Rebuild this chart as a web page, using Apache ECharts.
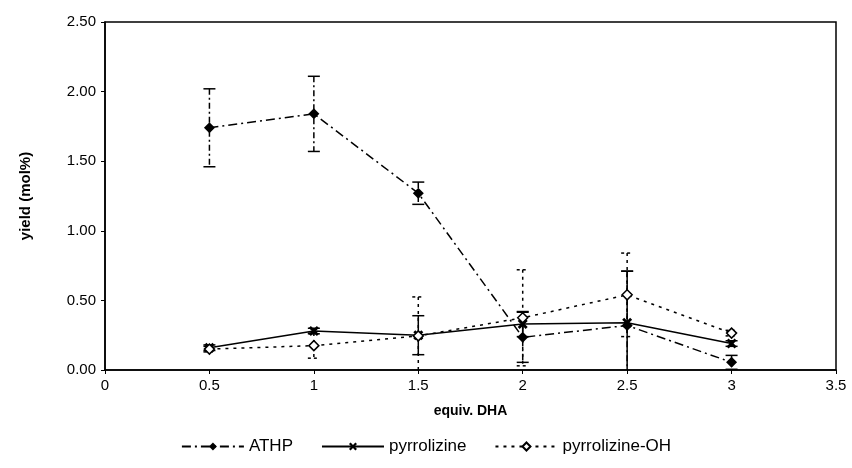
<!DOCTYPE html>
<html>
<head>
<meta charset="utf-8">
<script src="https://cdn.jsdelivr.net/npm/echarts@6/dist/echarts.min.js"></script>
<style>
  html, body { margin: 0; padding: 0; background: #fff; }
  #chart { width: 852px; height: 468px; }
</style>
</head>
<body>
<div id="chart"></div>
<script>
  // x positions (equiv. DHA)
  const equivDHA = [0.5, 1, 1.5, 2, 2.5, 3];

  // yields (mol%) and their error (+/-)
  const athp = [1.74, 1.84, 1.27, 0.235, 0.32, 0.055];
  const athpErr = [0.28, 0.27, 0.08, 0.18, 0.39, 0.05];
  const pyrrolizine = [0.16, 0.28, 0.25, 0.33, 0.34, 0.19];
  const pyrrolizineErr = [0.02, 0.02, 0.14, 0.09, 0.37, 0.02];
  const pyrrolizineOH = [0.15, 0.175, 0.245, 0.375, 0.54, 0.265];
  const pyrrolizineOHErr = [0.02, 0.09, 0.28, 0.345, 0.30, 0.02];

  const seriesNames = ['ATHP', 'pyrrolizine', 'pyrrolizine-OH'];

  const font = '"Liberation Sans", Arial, sans-serif';
  const crossPath = 'path://M2,0 L5,3 L8,0 L10,2 L7,5 L10,8 L8,10 L5,7 L2,10 L0,8 L3,5 L0,2 Z';

  function points(values) {
    return equivDHA.map((x, i) => [x, values[i]]);
  }

  function errorData(values, errs) {
    return equivDHA.map((x, i) => [x, values[i] - errs[i], values[i] + errs[i]]);
  }

  // draws vertical error bar with caps
  function errorRender(barDash, capDash) {
    return function (params, api) {
      const x = api.value(0);
      const lo = api.value(1);
      const hi = api.value(2);
      const top = api.coord([x, hi]);
      const bot = api.coord([x, Math.max(0, lo)]);
      const half = 6;
      const children = [{
        type: 'line',
        shape: { x1: top[0], y1: top[1], x2: bot[0], y2: bot[1] },
        style: { stroke: '#000', lineWidth: 1.5, lineDash: barDash }
      }, {
        type: 'line',
        shape: { x1: top[0] - half, y1: top[1], x2: top[0] + half, y2: top[1] },
        style: { stroke: '#000', lineWidth: 1.5, lineDash: capDash }
      }];
      if (lo > 0) {
        children.push({
          type: 'line',
          shape: { x1: bot[0] - half, y1: bot[1], x2: bot[0] + half, y2: bot[1] },
          style: { stroke: '#000', lineWidth: 1.5, lineDash: capDash }
        });
      }
      return { type: 'group', children: children };
    };
  }

  const chart = echarts.init(document.getElementById('chart'));
  chart.setOption({
    backgroundColor: '#fff',
    animation: false,
    textStyle: { fontFamily: font, color: '#000' },
    grid: {
      left: 105,
      right: 16,
      top: 22,
      bottom: 98,
      show: true,
      borderColor: '#000',
      borderWidth: 1.5
    },
    // 图例
    legend: {
      bottom: 8,
      left: 'center',
      data: seriesNames,
      itemWidth: 62,
      itemHeight: 10,
      itemGap: 28,
      textStyle: { fontSize: 17, color: '#000', fontFamily: font }
    },
    // X轴
    xAxis: {
      type: 'value',
      min: 0,
      max: 3.5,
      interval: 0.5,
      name: 'equiv. DHA',
      nameLocation: 'middle',
      nameGap: 34,
      nameTextStyle: { fontSize: 14, fontWeight: 'bold', color: '#000' },
      axisLine: { show: true, lineStyle: { color: '#000', width: 1.5 } },
      axisTick: { show: true, length: 4, lineStyle: { color: '#000' } },
      axisLabel: { fontSize: 15, color: '#000', margin: 8 },
      splitLine: { show: false }
    },
    // Y轴
    yAxis: {
      type: 'value',
      min: 0,
      max: 2.5,
      interval: 0.5,
      name: 'yield (mol%)',
      nameLocation: 'middle',
      nameGap: 72,
      nameTextStyle: { fontSize: 15, fontWeight: 'bold', color: '#000' },
      axisLine: { show: true, lineStyle: { color: '#000', width: 1.5 } },
      axisTick: { show: true, length: 4, lineStyle: { color: '#000' } },
      axisLabel: { fontSize: 15, color: '#000', margin: 9, formatter: v => v.toFixed(2) },
      splitLine: { show: false }
    },
    series: [{
      name: 'ATHP',
      type: 'line',
      data: points(athp),
      symbol: 'diamond',
      symbolSize: 11,
      itemStyle: { color: '#000' },
      lineStyle: { color: '#000', width: 1.5, type: [9, 4, 2, 4] },
      z: 3
    }, {
      name: 'pyrrolizine',
      type: 'line',
      data: points(pyrrolizine),
      symbol: crossPath,
      symbolSize: 10,
      itemStyle: { color: '#000' },
      lineStyle: { color: '#000', width: 1.5, type: 'solid' },
      z: 3
    }, {
      name: 'pyrrolizine-OH',
      type: 'line',
      data: points(pyrrolizineOH),
      symbol: 'diamond',
      symbolSize: 10,
      itemStyle: { color: '#fff', borderColor: '#000', borderWidth: 1.5 },
      lineStyle: { color: '#000', width: 1.5, type: [3, 5] },
      z: 3
    }, {
      name: 'ATHP err',
      type: 'custom',
      renderItem: errorRender([6, 3, 2, 3], null),
      data: errorData(athp, athpErr),
      z: 2
    }, {
      name: 'pyrrolizine err',
      type: 'custom',
      renderItem: errorRender(null, null),
      data: errorData(pyrrolizine, pyrrolizineErr),
      z: 2
    }, {
      name: 'pyrrolizine-OH err',
      type: 'custom',
      renderItem: errorRender([3, 4], [3, 3]),
      data: errorData(pyrrolizineOH, pyrrolizineOHErr),
      z: 2
    }]
  });
</script>
</body>
</html>
